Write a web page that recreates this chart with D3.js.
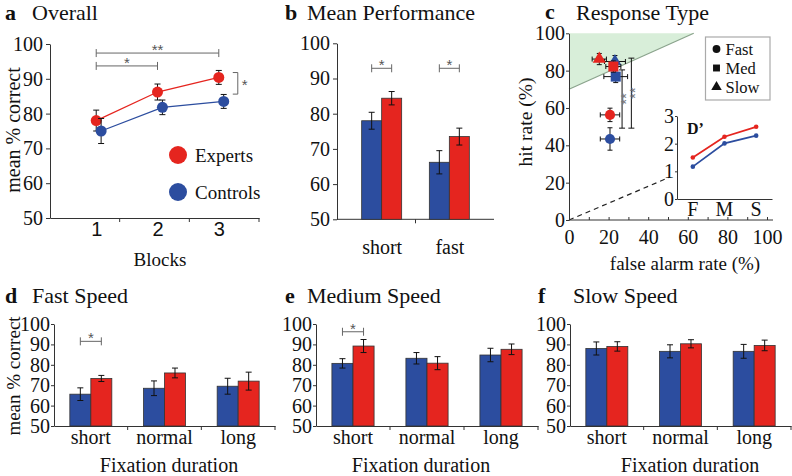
<!DOCTYPE html>
<html><head><meta charset="utf-8">
<script src="https://cdn.jsdelivr.net/npm/d3@7"></script>
<style>body{margin:0;background:#fff}svg{display:block}</style>
</head><body>
<script>
// ---------------- data ----------------
const blocks = [1, 2, 3];
const overallExperts = [78, 86.2, 90.4];
const overallExpertsErr = [3.0, 2.3, 2.0];
const overallControls = [75, 81.8, 83.5];
const overallControlsErr = [3.6, 2.1, 2.0];
const groups = ["Experts", "Controls"];
const pctTicks = [50, 60, 70, 80, 90, 100];
const bracketFrom = [1, 1];
const bracketTo = [3, 2];
const bracketLevel = [97.4, 93.7];
const bracketLabel = ["**", "*"];
const groupSigRange = [85.6, 91.8];

const perfCategories = ["short", "fast"];
const perfControls = [78, 66.2];
const perfControlsErr = [2.4, 3.3];
const perfExperts = [84.4, 73.5];
const perfExpertsErr = [1.9, 2.4];
const perfSigLevel = [92.9, 92.9];

const responseTypes = ["Fast", "Med", "Slow"];
const faExperts = [20.7, 22.4, 15.3];
const faExpertsErr = [4.9, 3.8, 3.6];
const hitExperts = [56.3, 82.2, 86.2];
const hitExpertsErr = [3.6, 3.0, 3.0];
const faControls = [20.7, 23.6, 23.2];
const faControlsErr = [4.9, 6.0, 5.3];
const hitControls = [43.4, 76.8, 84.9];
const hitControlsErr = [6.0, 3.2, 3.2];
const rateTicks = [0, 20, 40, 60, 80, 100];
const regionFA = [0, 0, 63];
const regionHit = [70, 100, 100];
const dashedFA = [0, 51];
const dashedHit = [0, 23];
const sigFA = [26.8, 31.5];
const sigHitLow = [49.2, 49.2];
const sigHitHigh = [80.4, 86.7];

const dprimeLabels = ["F", "M", "S"];
const dprimeExperts = [1.5, 2.25, 2.61];
const dprimeControls = [1.17, 2.01, 2.29];
const dprimeTicks = [0, 1, 2, 3];

const durations = ["short", "normal", "long"];
const fastControls = [65.6, 68.5, 69.5];
const fastControlsErr = [3.1, 3.6, 3.9];
const fastExperts = [73.3, 76.0, 72.0];
const fastExpertsErr = [1.5, 2.4, 4.4];
const medControls = [80.7, 83.2, 84.8];
const medControlsErr = [2.3, 2.8, 3.3];
const medExperts = [89.2, 80.8, 87.6];
const medExpertsErr = [3.2, 3.2, 2.6];
const slowControls = [88.0, 86.6, 86.6];
const slowControlsErr = [3.2, 3.2, 3.4];
const slowExperts = [89.0, 90.3, 89.5];
const slowExpertsErr = [2.3, 2.0, 2.6];
const fastSigLevel = 91.5;
const medSigLevel = 96.2;

// ---------------- style ----------------
const RED = "#e5251f", BLUE = "#2c4d9f", SERIF = "'Liberation Serif','Times New Roman',serif";
const SANS = "'Liberation Sans',Arial,sans-serif";
const AX = "#333", SIG = "#666";

const svg = d3.select("body").append("svg").attr("width", 792).attr("height", 476)
  .style("font-family", SERIF);

function styleAxis(ax, size, family) {
  ax.attr("font-family", null).attr("font-size", null);
  ax.selectAll("text").style("font-size", size + "px").style("font-family", family || SERIF).attr("fill", "#111");
  ax.selectAll("line").attr("stroke", AX);
  ax.select(".domain").attr("stroke", AX);
}
function title(x, y, letter) {
  svg.append("text").attr("x", x).attr("y", y).style("font-size", "22px").attr("font-weight", "bold").attr("fill", "#111").text(letter);
}
function titleText(x, y, text) {
  svg.append("text").attr("x", x).attr("y", y).style("font-size", "22px").attr("fill", "#111").text(text);
}
function label(x, y, text, size, rotate) {
  const t = svg.append("text").attr("text-anchor", "middle").style("font-size", size + "px").attr("fill", "#111").text(text);
  if (rotate) t.attr("transform", `translate(${x},${y}) rotate(-90)`);
  else t.attr("x", x).attr("y", y);
  return t;
}
function vErr(g, x, y1, y2, cap) {
  g.append("line").attr("x1", x).attr("x2", x).attr("y1", y1).attr("y2", y2).attr("stroke", "#111").attr("stroke-width", 1);
  [y1, y2].forEach(y => g.append("line").attr("x1", x - cap).attr("x2", x + cap).attr("y1", y).attr("y2", y).attr("stroke", "#111").attr("stroke-width", 1));
}
function hErr(g, y, x1, x2, cap) {
  g.append("line").attr("x1", x1).attr("x2", x2).attr("y1", y).attr("y2", y).attr("stroke", "#111").attr("stroke-width", 1);
  [x1, x2].forEach(x => g.append("line").attr("x1", x).attr("x2", x).attr("y1", y - cap).attr("y2", y + cap).attr("stroke", "#111").attr("stroke-width", 1));
}
function hBracket(g, x1, x2, y, txt) {
  g.append("line").attr("x1", x1).attr("x2", x2).attr("y1", y).attr("y2", y).attr("stroke", SIG).attr("stroke-width", 1);
  [x1, x2].forEach(x => g.append("line").attr("x1", x).attr("x2", x).attr("y1", y - 4).attr("y2", y + 4).attr("stroke", SIG).attr("stroke-width", 1));
  g.append("text").attr("x", (x1 + x2) / 2).attr("y", y + 2).attr("text-anchor", "middle")
    .style("font-size", "15px").style("font-family", SANS).attr("fill", "#555").text(txt);
}

// ---------------- panel a ----------------
{
  const g = svg.append("g");
  const x = d3.scaleLinear().domain([0.246, 3.656]).range([50, 259]);
  const y = d3.scaleLinear().domain([50, 100]).range([218, 44]);
  const band = d3.scaleBand().domain(blocks).range([50, 259]);
  const off = 0.08;
  const ya = g.append("g").attr("transform", "translate(50,0)")
    .call(d3.axisLeft(y).tickValues(pctTicks).tickSize(4).tickPadding(3).tickSizeOuter(0));
  styleAxis(ya, 20);
  const xa = g.append("g").attr("transform", "translate(0,218)")
    .call(d3.axisBottom(x).tickValues(blocks).tickFormat(d3.format("d")).tickSize(0).tickPadding(4).tickSizeOuter(0));
  styleAxis(xa, 20, SANS);
  blocks.forEach(b => g.append("line").attr("x1", band(b) + band.bandwidth()).attr("x2", band(b) + band.bandwidth())
    .attr("y1", 218).attr("y2", 222).attr("stroke", AX));

  const series = [
    { v: overallExperts, e: overallExpertsErr, c: RED, o: 0 },
    { v: overallControls, e: overallControlsErr, c: BLUE, o: off }
  ];
  series.forEach(s => {
    g.append("path").datum(blocks).attr("fill", "none").attr("stroke", s.c).attr("stroke-width", 1.3)
      .attr("d", d3.line().x((b, i) => x(b + s.o)).y((b, i) => y(s.v[i])));
  });
  series.forEach(s => {
    blocks.forEach((b, i) => vErr(g, x(b + s.o), y(s.v[i] + s.e[i]), y(s.v[i] - s.e[i]), 3));
    g.selectAll(null).data(blocks).enter().append("circle")
      .attr("cx", b => x(b + s.o)).attr("cy", (b, i) => y(s.v[i])).attr("r", 5.5).attr("fill", s.c);
  });
  bracketFrom.forEach((f, i) => hBracket(g, x(f), x(bracketTo[i]), y(bracketLevel[i]), bracketLabel[i]));
  const bx = x(3.31);
  g.append("line").attr("x1", bx).attr("x2", bx).attr("y1", y(groupSigRange[1])).attr("y2", y(groupSigRange[0])).attr("stroke", SIG);
  groupSigRange.forEach(v => g.append("line").attr("x1", bx - 5).attr("x2", bx).attr("y1", y(v)).attr("y2", y(v)).attr("stroke", SIG));
  g.append("text").attr("x", bx + 4).attr("y", y((groupSigRange[0] + groupSigRange[1]) / 2) + 7)
    .style("font-size", "15px").style("font-family", SANS).attr("fill", "#555").text("*");
  [RED, BLUE].forEach((c, i) => {
    g.append("circle").attr("cx", 178).attr("cy", 155 + i * 37).attr("r", 9).attr("fill", c);
    g.append("text").attr("x", 195).attr("y", 162 + i * 37).style("font-size", "19px").attr("fill", "#111").text(groups[i]);
  });
  title(5, 20, "a"); titleText(32, 20, "Overall");
  label(20, 130, "mean % correct", 20, true);
  label(160, 266, "Blocks", 19);
}

// ---------------- panel b ----------------
{
  const g = svg.append("g");
  const x = d3.scalePoint().domain(perfCategories).range([337, 494]).padding(0.66);
  const y = d3.scaleLinear().domain([50, 100]).range([219.3, 43.3]);
  const bw = 20;
  const ya = g.append("g").attr("transform", "translate(337,0)")
    .call(d3.axisLeft(y).tickValues(pctTicks).tickSize(4).tickPadding(3).tickSizeOuter(0));
  styleAxis(ya, 20);
  const xa = g.append("g").attr("transform", "translate(0,219.3)")
    .call(d3.axisBottom(x).tickSize(0).tickPadding(21).tickSizeOuter(0));
  styleAxis(xa, 20);
  xa.select(".domain").attr("d", "M337,0H494");
  for (let i = 1; i < perfCategories.length; i++) {
    const m = (x(perfCategories[i - 1]) + x(perfCategories[i])) / 2;
    g.append("line").attr("x1", m).attr("x2", m).attr("y1", 219.3).attr("y2", 223.3).attr("stroke", AX);
  }
  perfCategories.forEach((c, i) => {
    const cx = x(c);
    g.append("rect").attr("x", cx - bw).attr("y", y(perfControls[i])).attr("width", bw).attr("height", y(50) - y(perfControls[i]))
      .attr("fill", BLUE).attr("stroke", "#333").attr("stroke-width", 0.8);
    g.append("rect").attr("x", cx).attr("y", y(perfExperts[i])).attr("width", bw).attr("height", y(50) - y(perfExperts[i]))
      .attr("fill", RED).attr("stroke", "#333").attr("stroke-width", 0.8);
    vErr(g, cx - bw / 2, y(perfControls[i] + perfControlsErr[i]), y(perfControls[i] - perfControlsErr[i]), 3);
    vErr(g, cx + bw / 2, y(perfExperts[i] + perfExpertsErr[i]), y(perfExperts[i] - perfExpertsErr[i]), 3);
    hBracket(g, cx - bw / 2, cx + bw / 2, y(perfSigLevel[i]), "*");
  });
  title(285, 20, "b"); titleText(307, 20, "Mean Performance");
}

// ---------------- panel c ----------------
{
  const g = svg.append("g");
  const x = d3.scaleLinear().domain([0, 100]).range([569, 767]);
  const y = d3.scaleLinear().domain([0, 100]).range([220, 33.3]);
  g.append("path").attr("fill", "#d8eed9")
    .attr("d", d3.line().x(d => x(d)).y((d, i) => y(regionHit[i]))(regionFA) + "Z");
  g.append("line").attr("x1", x(regionFA[0])).attr("y1", y(regionHit[0])).attr("x2", x(regionFA[2])).attr("y2", y(regionHit[2]))
    .attr("stroke", "#8aa38c").attr("stroke-width", 1.2);
  g.append("path").datum(dashedFA).attr("fill", "none").attr("stroke", "#222").attr("stroke-width", 1.2).attr("stroke-dasharray", "5,4")
    .attr("d", d3.line().x(d => x(d)).y((d, i) => y(dashedHit[i])));
  const ya = g.append("g").attr("transform", "translate(569,0)")
    .call(d3.axisLeft(y).tickValues(rateTicks).tickSize(3).tickPadding(1).tickSizeOuter(0));
  styleAxis(ya, 20);
  const xa = g.append("g").attr("transform", "translate(0,220)")
    .call(d3.axisBottom(x).tickValues(d3.range(0, 101, 10)).tickFormat(d => d % 20 === 0 ? d : "")
      .tickSizeInner(-3).tickSizeOuter(0).tickPadding(10));
  styleAxis(xa, 20);
  xa.select(".domain").attr("d", "M569,0H773");

  sigFA.forEach((f, i) => {
    vErr(g, x(f), y(sigHitHigh[i]), y(sigHitLow[i]), 3);
    g.append("text").attr("transform", `translate(${x(f) + 9},${y((sigHitHigh[i] + sigHitLow[i]) / 2)}) rotate(-90)`)
      .attr("text-anchor", "middle").style("font-size", "15px").style("font-family", SANS).attr("fill", "#777").text("**");
  });
  const shapes = [d3.symbolCircle, d3.symbolSquare, d3.symbolTriangle];
  const sizes = [80, 100, 75];
  const sets = [
    { fa: faControls, fe: faControlsErr, h: hitControls, he: hitControlsErr, c: BLUE },
    { fa: faExperts, fe: faExpertsErr, h: hitExperts, he: hitExpertsErr, c: RED }
  ];
  const order = [[0, 2], [1, 2], [0, 0], [1, 0], [0, 1], [1, 1]];
  order.forEach(([s, i]) => {
    const d = sets[s];
    const cx = x(d.fa[i]), cy = y(d.h[i]);
    hErr(g, cy, x(d.fa[i] - d.fe[i]), x(d.fa[i] + d.fe[i]), 2.5);
    vErr(g, cx, y(d.h[i] + d.he[i]), y(d.h[i] - d.he[i]), 2.5);
    g.append("path").attr("transform", `translate(${cx},${cy})`)
      .attr("d", d3.symbol().type(shapes[i]).size(sizes[i])()).attr("fill", d.c);
  });
  g.append("rect").attr("x", 705.5).attr("y", 37).attr("width", 64.5).attr("height", 63).attr("fill", "#fff").attr("stroke", "#aaa").attr("stroke-width", 1.2);
  responseTypes.forEach((t, i) => {
    const ly = 49 + i * 19;
    g.append("path").attr("transform", `translate(716.5,${ly})`).attr("d", d3.symbol().type(shapes[i]).size(48)()).attr("fill", "#111");
    g.append("text").attr("x", 725.5).attr("y", ly + 6).style("font-size", "16.5px").attr("fill", "#111").text(t);
  });
  const xi = d3.scaleBand().domain(dprimeLabels).range([677, 772]);
  const yi = d3.scaleLinear().domain([0, 3]).range([199, 116]);
  const yia = g.append("g").attr("transform", "translate(677,0)")
    .call(d3.axisLeft(yi).tickValues(dprimeTicks).tickFormat(d3.format("d")).tickSize(2).tickPadding(1).tickSizeOuter(0));
  styleAxis(yia, 20);
  const xia = g.append("g").attr("transform", "translate(0,199)")
    .call(d3.axisBottom(xi).tickSize(0).tickPadding(3).tickSizeOuter(0));
  styleAxis(xia, 20);
  [{ v: dprimeExperts, c: RED }, { v: dprimeControls, c: BLUE }].forEach(s => {
    g.append("path").datum(dprimeLabels).attr("fill", "none").attr("stroke", s.c).attr("stroke-width", 1.8)
      .attr("d", d3.line().x(d => xi(d) + xi.bandwidth() / 2).y((d, i) => yi(s.v[i])));
    g.selectAll(null).data(dprimeLabels).enter().append("circle").attr("cx", d => xi(d) + xi.bandwidth() / 2)
      .attr("cy", (d, i) => yi(s.v[i])).attr("r", 2.3).attr("fill", s.c);
  });
  g.append("text").attr("x", 687).attr("y", 134).style("font-size", "16px").attr("font-weight", "bold").attr("fill", "#111").text("D’");

  title(545, 19, "c"); titleText(576, 20, "Response Type");
  label(532, 122, "hit rate (%)", 19.5, true);
  label(685, 270, "false alarm rate (%)", 19);
}

// ---------------- panels d, e, f ----------------
function speedPanel(x0, x1, ctrl, ctrlErr, exp, expErr, sigLevel) {
  const g = svg.append("g");
  const x = d3.scaleBand().domain(durations).range([x0, x1]);
  const y = d3.scaleLinear().domain([50, 100]).range([426, 324]);
  const bw = x.bandwidth() * 0.285;
  const ya = g.append("g").attr("transform", `translate(${x0},0)`)
    .call(d3.axisLeft(y).tickValues(pctTicks).tickSize(3).tickPadding(1).tickSizeOuter(0));
  styleAxis(ya, 20);
  const xa = g.append("g").attr("transform", "translate(0,426)")
    .call(d3.axisBottom(x).tickSize(0).tickPadding(4).tickSizeOuter(0));
  styleAxis(xa, 20);
  durations.forEach(c => {
    const bx = x(c) + x.bandwidth();
    g.append("line").attr("x1", bx).attr("x2", bx).attr("y1", 426).attr("y2", 430).attr("stroke", AX);
  });
  durations.forEach((c, i) => {
    const cx = x(c) + x.bandwidth() / 2;
    g.append("rect").attr("x", cx - bw).attr("y", y(ctrl[i])).attr("width", bw).attr("height", y(50) - y(ctrl[i]))
      .attr("fill", BLUE).attr("stroke", "#333").attr("stroke-width", 0.8);
    g.append("rect").attr("x", cx).attr("y", y(exp[i])).attr("width", bw).attr("height", y(50) - y(exp[i]))
      .attr("fill", RED).attr("stroke", "#333").attr("stroke-width", 0.8);
    vErr(g, cx - bw / 2, y(ctrl[i] + ctrlErr[i]), y(ctrl[i] - ctrlErr[i]), 3);
    vErr(g, cx + bw / 2, y(exp[i] + expErr[i]), y(exp[i] - expErr[i]), 3);
  });
  if (sigLevel != null) {
    const cx = x(durations[0]) + x.bandwidth() / 2;
    hBracket(g, cx - bw / 2, cx + bw / 2, y(sigLevel), "*");
  }
}
speedPanel(54, 275, fastControls, fastControlsErr, fastExperts, fastExpertsErr, fastSigLevel);
speedPanel(316, 538, medControls, medControlsErr, medExperts, medExpertsErr, medSigLevel);
speedPanel(570, 791, slowControls, slowControlsErr, slowExperts, slowExpertsErr, null);

title(5, 303, "d"); titleText(32, 303, "Fast Speed");
title(285, 303, "e"); titleText(307, 303, "Medium Speed");
title(538, 303, "f"); titleText(573, 303, "Slow Speed");
label(20, 376, "mean % correct", 19, true);
label(169, 472, "Fixation duration", 20);
label(421, 472, "Fixation duration", 20);
label(690, 472, "Fixation duration", 20);
</script>
</body></html>
